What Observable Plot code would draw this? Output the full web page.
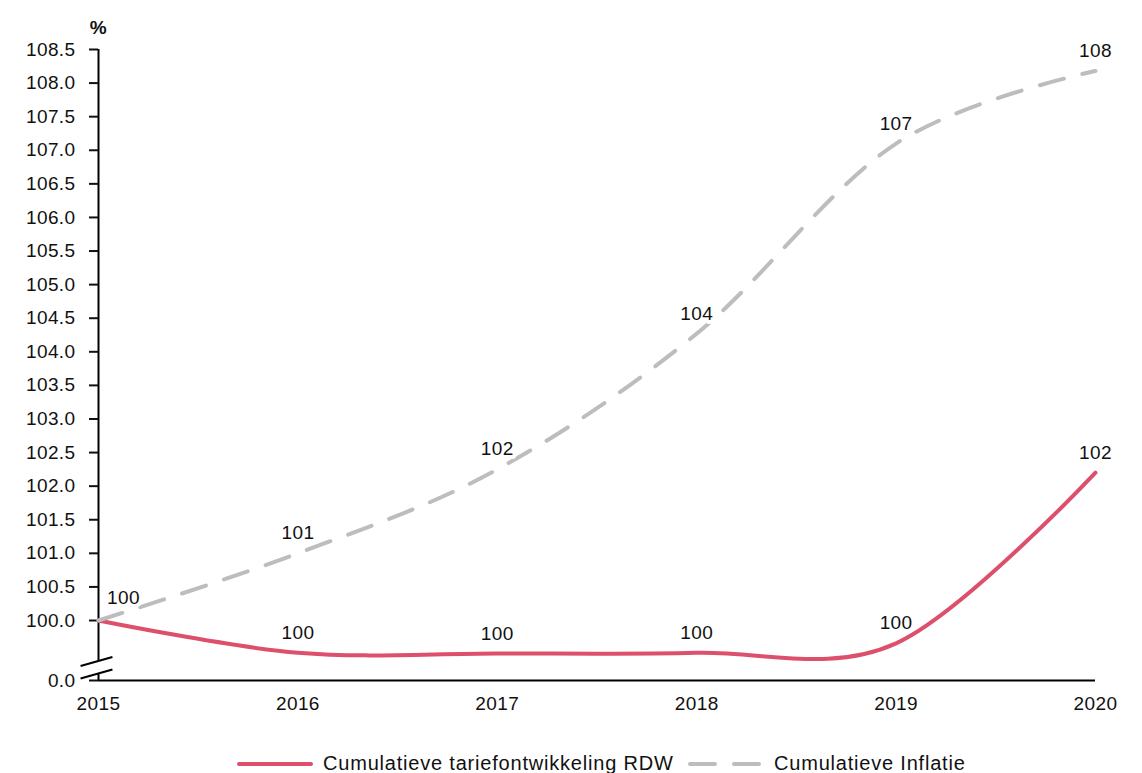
<!DOCTYPE html>
<html>
<head>
<meta charset="utf-8">
<script src="https://cdn.jsdelivr.net/npm/d3@7"></script>
<script src="https://cdn.jsdelivr.net/npm/@observablehq/plot@0.6"></script>
<style>
  html, body { margin: 0; padding: 0; background: #fff; }
  #chart svg text { letter-spacing: 0.4px; }
  #legend { position: relative; height: 26px; font-family: "Liberation Sans", Arial, sans-serif; font-size: 20px; color: #111; letter-spacing: 0.8px; }
  #legend .item { position: absolute; top: 0; height: 33px; display: flex; align-items: center; white-space: nowrap; }
  #legend svg { margin-right: 10px; }
</style>
</head>
<body>
<div id="chart"></div>
<div id="legend"></div>
<script>
// ---- data ----
const years = [2015, 2016, 2017, 2018, 2019, 2020];
const rdw = [100, 99.52, 99.51, 99.52, 99.66, 102.2];
const inflatie = [100, 101.0, 102.25, 104.27, 107.1, 108.18];
const seriesNames = ["Cumulatieve tariefontwikkeling RDW", "Cumulatieve Inflatie"];
const yTickValues = [100, 100.5, 101, 101.5, 102, 102.5, 103, 103.5, 104, 104.5, 105, 105.5, 106, 106.5, 107, 107.5, 108, 108.5];
const brokenZero = 99.107;          // where the "0.0" tick of the broken axis sits
const brokenZeroLabel = "0.0";
const breakMarks = [99.39, 99.204]; // the two slashes of the axis break

const colors = {RDW: "#dc506c", Inflatie: "#bdbdbd"};

const rdwRows = years.map((year, i) => ({year, value: rdw[i], series: "RDW"}));
const inflRows = years.map((year, i) => ({year, value: inflatie[i], series: "Inflatie"}));
const labelRows = [...rdwRows, ...inflRows];
const fmt0 = d3.format(".0f");

const chart = Plot.plot({
  width: 1142,
  height: 747,
  marginLeft: 98,
  marginRight: 47,
  marginTop: 49,
  marginBottom: 67,
  style: {fontFamily: "'Liberation Sans', Arial, sans-serif", fontSize: "19px", color: "#111", background: "#fff", overflow: "visible"},
  x: {domain: [2015, 2020], axis: null},
  y: {domain: [brokenZero, 108.5], axis: null},
  marks: [
    // axis lines with break
    Plot.ruleX([2015], {y1: breakMarks[0], y2: 108.5, stroke: "#000", strokeWidth: 2}),
    Plot.ruleX([2015], {y1: brokenZero, y2: breakMarks[1], stroke: "#000", strokeWidth: 2}),
    Plot.ruleY([brokenZero], {x1: 2015, x2: 2020, stroke: "#000", strokeWidth: 2}),
    Plot.link(breakMarks, {x1: 2015 - 0.09, x2: 2015 + 0.07, y1: d => d - 0.067, y2: d => d + 0.067, stroke: "#000", strokeWidth: 2}),
    Plot.axisY([brokenZero, ...yTickValues], {
      tickSize: 9, tickPadding: 14, strokeWidth: 2, fontSize: 19, label: null,
      tickFormat: d => d === brokenZero ? brokenZeroLabel : d3.format(".1f")(d)
    }),
    Plot.axisX(years, {tickSize: 0, tickPadding: 16, fontSize: 19, label: null, tickFormat: d => String(d)}),
    // lines
    Plot.line(rdwRows, {x: "year", y: "value", stroke: colors.RDW, strokeWidth: 4, curve: "cardinal", strokeLinecap: "round"}),
    Plot.line(inflRows, {x: "year", y: "value", stroke: colors.Inflatie, strokeWidth: 4, curve: "cardinal", strokeDasharray: "25,19", strokeLinecap: "round"}),
    // value labels
    Plot.text(labelRows.filter(d => d.year > 2015), {
      x: "year", y: "value", text: d => fmt0(d.value), dy: -20, fontSize: 19,
      fill: "#111", stroke: "#fff", strokeWidth: 8, paintOrder: "stroke"
    }),
    Plot.text(inflRows.filter(d => d.year === 2015), {
      x: "year", y: "value", text: d => fmt0(d.value), dx: 25, dy: -23, fontSize: 19,
      fill: "#111", stroke: "#fff", strokeWidth: 8, paintOrder: "stroke"
    }),
    // unit label
    Plot.text(["%"], {frameAnchor: "top-left", text: d => d, dy: -29, fontSize: 19, fontWeight: "bold", textAnchor: "middle", fill: "#111"})
  ]
});
document.getElementById("chart").appendChild(chart);

// legend
const legend = document.getElementById("legend");
const items = [
  {name: seriesNames[0], color: colors.RDW, dash: null, left: 237},
  {name: seriesNames[1], color: colors.Inflatie, dash: "25,19", left: 688}
];
for (const it of items) {
  const div = document.createElement("div");
  div.className = "item";
  div.style.left = it.left + "px";
  div.innerHTML = `<svg width="76" height="10"><line x1="2" y1="5" x2="74" y2="5" stroke="${it.color}" stroke-width="4" stroke-linecap="round" ${it.dash ? `stroke-dasharray="${it.dash}"` : ""}></line></svg><span>${it.name}</span>`;
  legend.appendChild(div);
}
</script>
</body>
</html>
